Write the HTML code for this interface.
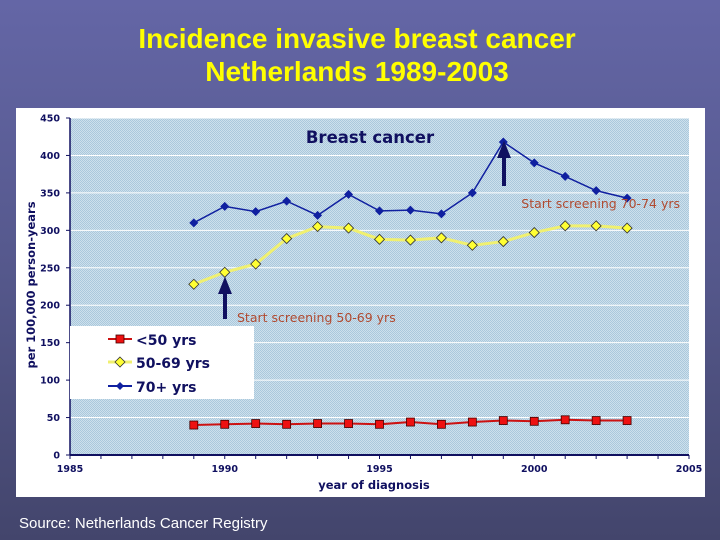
<!DOCTYPE html>
<html><head><meta charset="utf-8"><style>
body{margin:0;width:720px;height:540px;overflow:hidden;background:linear-gradient(180deg,#6466a6 0%,#55588c 50%,#43456c 100%);font-family:"Liberation Sans",sans-serif;}
svg{position:absolute;left:0;top:0}
</style></head><body>
<svg width="720" height="540">
<defs><pattern id="dots" width="2" height="2" patternUnits="userSpaceOnUse"><rect width="2" height="2" fill="#cde0ec"/><rect width="1" height="1" fill="#aac8dc"/><rect x="1" y="1" width="1" height="1" fill="#aac8dc"/></pattern></defs>
<text x="357" y="48" text-anchor="middle" font-size="28" font-weight="bold" fill="#ffff00">Incidence invasive breast cancer</text>
<text x="357" y="81" text-anchor="middle" font-size="28" font-weight="bold" fill="#ffff00">Netherlands 1989-2003</text>
<rect x="16" y="108" width="689" height="389" fill="#fff"/>
<rect x="70" y="118" width="619" height="337" fill="url(#dots)"/>
<g id="grid"></g><g id="axes"></g><g id="series"></g>
<text x="370" y="143" text-anchor="middle" font-family="DejaVu Sans,sans-serif" font-weight="bold" font-size="16.5" fill="#101060">Breast cancer</text>
<text transform="translate(35,285) rotate(-90)" text-anchor="middle" font-family="DejaVu Sans,sans-serif" font-weight="bold" font-size="11.5" fill="#101060">per 100,000 person-years</text>
<text x="374" y="489" text-anchor="middle" font-family="DejaVu Sans,sans-serif" font-weight="bold" font-size="11.5" fill="#101060">year of diagnosis</text>
<path d="M504,186 V148 M500,156 L504,146 L508,156 Z" stroke="#101060" stroke-width="4" fill="#101060"/>
<text x="680" y="208" text-anchor="end" font-family="DejaVu Sans,sans-serif" font-size="12.5" fill="#b04a30">Start screening 70-74 yrs</text>
<path d="M225,319 V284 M221,292 L225,282 L229,292 Z" stroke="#101060" stroke-width="4" fill="#101060"/>
<text x="237" y="322" font-family="DejaVu Sans,sans-serif" font-size="12.5" fill="#b04a30">Start screening 50-69 yrs</text>
<g>
<rect x="70" y="326" width="184" height="73" fill="#fff"/>
<line x1="108" y1="339" x2="132" y2="339" stroke="#cc1111" stroke-width="2"/><rect x="116" y="335" width="8" height="8" fill="#ee1111" stroke="#400" stroke-width="0.8"/>
<text x="136" y="345" font-family="DejaVu Sans,sans-serif" font-weight="bold" font-size="14" fill="#101060">&lt;50 yrs</text>
<line x1="108" y1="362" x2="132" y2="362" stroke="#f0f070" stroke-width="3"/><path d="M120,357 L125,362 L120,367 L115,362Z" fill="#ffff33" stroke="#333" stroke-width="0.8"/>
<text x="136" y="368" font-family="DejaVu Sans,sans-serif" font-weight="bold" font-size="14" fill="#101060">50-69 yrs</text>
<line x1="108" y1="386" x2="132" y2="386" stroke="#1020a0" stroke-width="2"/><path d="M120,382 L124,386 L120,390 L116,386Z" fill="#1020a0"/>
<text x="136" y="392" font-family="DejaVu Sans,sans-serif" font-weight="bold" font-size="14" fill="#101060">70+ yrs</text>
</g>
<text x="19" y="528" font-size="15" fill="#ffffff">Source: Netherlands Cancer Registry</text>
</svg>
<script>
const years=[1989,1990,1991,1992,1993,1994,1995,1996,1997,1998,1999,2000,2001,2002,2003];
const under50=[40,41,42,41,42,42,41,44,41,44,46,45,47,46,46];
const age50to69=[228,244,255,289,305,303,288,287,290,280,285,297,306,306,303];
const age70plus=[310,332,325,339,320,348,326,327,322,350,418,390,372,353,343];
const yTicks=[0,50,100,150,200,250,300,350,400,450];
const xTicks=[1985,1990,1995,2000,2005];
const NS="http://www.w3.org/2000/svg";
const X=v=>70+(v-1985)*(619/20), Y=v=>455-v*(337/450);
function mk(t,a,p){const e=document.createElementNS(NS,t);for(const k in a)e.setAttribute(k,a[k]);p.appendChild(e);return e;}
const grid=document.getElementById('grid'),axes=document.getElementById('axes'),ser=document.getElementById('series');
yTicks.forEach(v=>{if(v>0){const l=mk('line',{x1:70,x2:689,y1:Y(v),y2:Y(v),stroke:'#fff','stroke-width':1},grid);

}
mk('line',{x1:66,x2:70,y1:Y(v),y2:Y(v),stroke:'#101060'},axes);
const t=mk('text',{x:60,y:Y(v)+3.5,'text-anchor':'end','font-family':'DejaVu Sans,sans-serif','font-weight':'bold','font-size':9.5,fill:'#101060'},axes);t.textContent=v;

});
for(let y=1985;y<=2005;y++)mk('line',{x1:X(y),x2:X(y),y1:455,y2:459,stroke:'#101060'},axes);
xTicks.forEach(v=>{const t=mk('text',{x:X(v),y:472,'text-anchor':'middle','font-family':'DejaVu Sans,sans-serif','font-weight':'bold','font-size':9.5,fill:'#101060'},axes);t.textContent=v;

});
mk('line',{x1:70,x2:70,y1:118,y2:455,stroke:'#101060','stroke-width':1.5},axes);
mk('line',{x1:70,x2:689,y1:455,y2:455,stroke:'#101060','stroke-width':2},axes);
function draw(vals,name,col,w,marker){
 const g=mk('g',{},ser);
 
 
 mk('polyline',{points:vals.map((v,i)=>X(years[i])+','+Y(v)).join(' '),fill:'none',stroke:col,'stroke-width':w},g);
 vals.forEach((v,i)=>{const x=X(years[i]),y=Y(v);let m;
  if(marker==='sq')m=mk('rect',{x:x-4,y:y-4,width:8,height:8,fill:'#ee1111',stroke:'#400','stroke-width':0.8},g);
  else if(marker==='yd')m=mk('path',{d:`M${x},${y-5}L${x+5},${y}L${x},${y+5}L${x-5},${y}Z`,fill:'#ffff33',stroke:'#333','stroke-width':0.8},g);
  else m=mk('path',{d:`M${x},${y-4.5}L${x+4.5},${y}L${x},${y+4.5}L${x-4.5},${y}Z`,fill:'#1020a0'},g);
  
  });
}
draw(under50,'under-50','#cc1111',2,'sq');
draw(age50to69,'50-69','#f0f070',3,'yd');
draw(age70plus,'70-plus','#1020a0',1.5,'bd');
</script>
</body></html>
